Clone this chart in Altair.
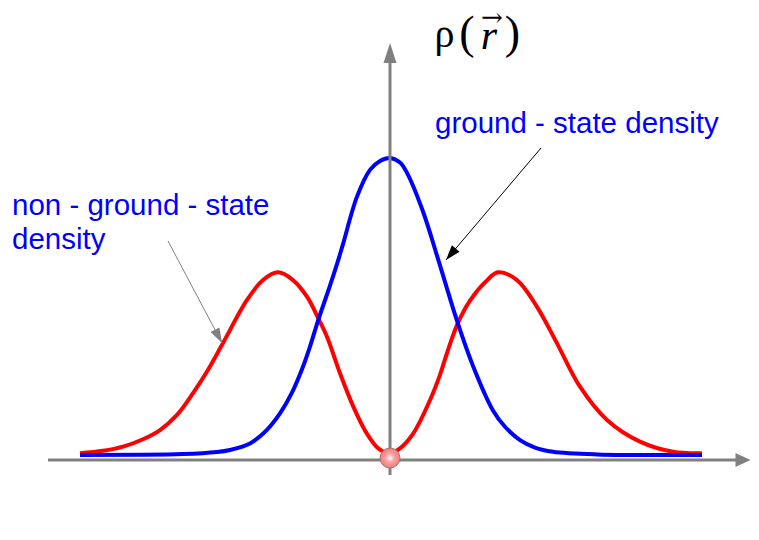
import altair as alt
import pandas as pd

# ---------------- data ----------------
# x: position along r (100 px per unit, 0 at the vertical axis); y: density (ground-state peak = 1)
blue_x = [-3.10, -2.07, -1.73, -1.60, -1.40, -1.233, -1.10, -0.983, -0.883, -0.80, -0.717, -0.60,
          -0.517, -0.47, -0.33, -0.20, -0.10, 0.0, 0.10, 0.17, 0.33, 0.483, 0.673, 0.83, 1.03,
          1.15, 1.30, 1.45, 1.63, 2.07, 3.12]
blue_y = [0.0, 0.003, 0.010, 0.017, 0.039, 0.084, 0.140, 0.208, 0.286, 0.365, 0.455, 0.57,
          0.657, 0.71, 0.87, 0.96, 0.99, 1.0, 0.985, 0.95, 0.82, 0.657, 0.449, 0.30, 0.15,
          0.095, 0.05, 0.025, 0.011, 0.002, 0.0]

red_x = [-3.10, -2.87, -2.67, -2.47, -2.30, -2.13, -1.97, -1.83, -1.67, -1.43, -1.27, -1.12, -0.97,
         -0.83, -0.717, -0.63, -0.50, -0.367, -0.233, -0.117, 0.0, 0.10, 0.233, 0.40, 0.50, 0.567,
         0.673, 0.80, 0.967, 1.08, 1.27, 1.47, 1.67, 1.90, 2.17, 2.50, 2.83, 3.12]
red_y = [0.006, 0.014, 0.028, 0.053, 0.084, 0.135, 0.208, 0.281, 0.377, 0.522, 0.589, 0.615, 0.589,
         0.533, 0.46, 0.398, 0.275, 0.163, 0.073, 0.0225, 0.005, 0.0225, 0.073, 0.185, 0.27, 0.34,
         0.44, 0.52, 0.587, 0.615, 0.589, 0.499, 0.376, 0.230, 0.118, 0.045, 0.011, 0.006]

# axis extents (data units)
h_axis_x = [-3.42, 3.50]
h_axis_y = -0.0168
v_axis_y = [-0.0673, 1.33]
h_arrow_tip = (3.605, -0.0168)
v_arrow_tip = (0.0, 1.387)
origin_ball = (0.0, -0.0101)

# annotation arrows: start -> tip
ground_arrow = [(1.51, 1.0337), (0.56, 0.6566)]
nonground_arrow = [(-2.22, 0.7205), (-1.68, 0.3771)]

label_ground = "ground - state density"
label_nonground = ["non - ground - state", "density"]

X_DOMAIN = [-3.82, 3.61]
Y_DOMAIN = [-0.229, 1.5051]

xs = alt.Scale(domain=X_DOMAIN, nice=False, zero=False)
ys = alt.Scale(domain=Y_DOMAIN, nice=False, zero=False)


def enc(xf="x", yf="y", **kw):
    return dict(x=alt.X(f"{xf}:Q", scale=xs, axis=None),
                y=alt.Y(f"{yf}:Q", scale=ys, axis=None), **kw)


blue_df = pd.DataFrame({"x": blue_x, "y": blue_y})
red_df = pd.DataFrame({"x": red_x, "y": red_y})

red = alt.Chart(red_df).mark_line(color="#ff0000", strokeWidth=4, interpolate="catmull-rom").encode(**enc())
blue = alt.Chart(blue_df).mark_line(color="#0000ff", strokeWidth=4, interpolate="catmull-rom").encode(**enc())

axes_df = pd.DataFrame({
    "x": [h_axis_x[0], 0.0], "x2": [h_axis_x[1], 0.0],
    "y": [h_axis_y, v_axis_y[0]], "y2": [h_axis_y, v_axis_y[1]],
})
axes = alt.Chart(axes_df).mark_rule(color="#808080", strokeWidth=3).encode(
    **enc(), x2="x2:Q", y2="y2:Q")


def head(tip, shape, size, angle, color):
    d = pd.DataFrame({"x": [tip[0]], "y": [tip[1]]})
    return alt.Chart(d).mark_point(shape=shape, size=size, angle=angle, filled=True,
                                   color=color, opacity=1, strokeWidth=0).encode(**enc())


h_head = head(h_arrow_tip, "M 0 0 L -2 -0.93 L -2 0.93 Z", 225, 0, "#808080")
v_head = head(v_arrow_tip, "M 0 0 L -2 -0.65 L -2 0.65 Z", 400, 270, "#808080")


def arrow(pts, color, angle):
    d = pd.DataFrame({"x": [pts[0][0]], "y": [pts[0][1]], "x2": [pts[1][0]], "y2": [pts[1][1]]})
    line = alt.Chart(d).mark_rule(color=color, strokeWidth=1).encode(**enc(), x2="x2:Q", y2="y2:Q")
    return line + head(pts[1], "M 0 0 L -2 -0.67 L -2 0.67 Z", 225, angle, color)


g_arrow = arrow(ground_arrow, "#000000", 130.3)
ng_arrow = arrow(nonground_arrow, "#808080", 62.1)

ball = alt.Chart(pd.DataFrame({"x": [origin_ball[0]], "y": [origin_ball[1]]})).mark_point(
    shape="circle", size=400, filled=True, opacity=1,
    fill=alt.RadialGradient(gradient="radial",
                            stops=[alt.GradientStop(color="#ffffff", offset=0),
                                   alt.GradientStop(color="#f9a8a8", offset=0.35),
                                   alt.GradientStop(color="#eb7575", offset=1)],
                            x1=0.5, y1=0.5, r1=0, x2=0.5, y2=0.5, r2=0.55),
    stroke="#b07070", strokeWidth=1).encode(**enc())


def text(t, x, y, size, color="#0000ff", font="Liberation Sans", align="left", style=None,
         baseline="alphabetic"):
    d = pd.DataFrame({"x": [x], "y": [y], "t": [t]})
    kw = dict(align=align, baseline=baseline, font=font, fontSize=size, color=color)
    if style:
        kw["fontStyle"] = style
    return alt.Chart(d).mark_text(**kw).encode(**enc(), text="t:N")


labels = (
    text(label_ground, 0.45, 1.0842, 29.5)
    + text(label_nonground[0], -3.78, 0.8081, 29.5)
    + text(label_nonground[1], -3.78, 0.6936, 29.5)
)

title = (
    text("ρ", 0.545, 1.375, 40, color="#000000", font="Liberation Serif", align="center")
    + text("(", 0.77, 1.372, 46, color="#000000", font="Liberation Serif", align="center")
    + text("r", 0.99, 1.367, 42, color="#000000", font="Liberation Serif", align="center", style="italic")
    + text("→", 1.02, 1.47, 26, color="#000000", font="DejaVu Serif", align="center", baseline="middle")
    + text(")", 1.225, 1.372, 46, color="#000000", font="Liberation Serif", align="center")
)

chart = alt.layer(
    red, blue, axes, h_head, v_head, g_arrow, ng_arrow, ball, labels, title
).properties(
    width=743, height=515, padding=0, autosize=alt.AutoSizeParams(type="none"),
    background="#ffffff",
).configure_view(stroke=None)

chart.save("out.html", embed_options={"renderer": "svg", "actions": False})
